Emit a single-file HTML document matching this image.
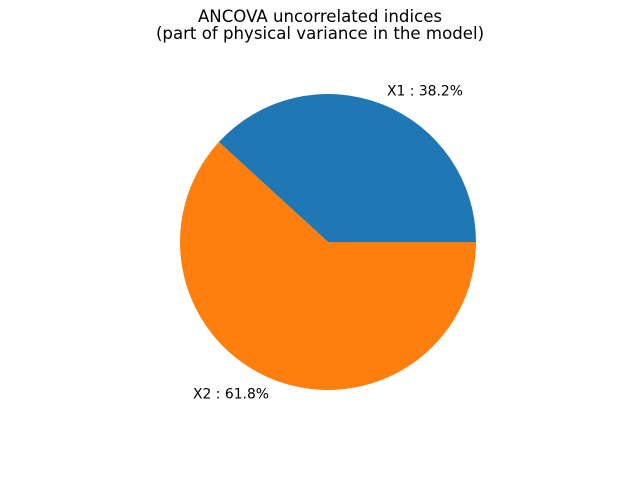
<!DOCTYPE html>
<html><head><meta charset="utf-8"><style>
body{margin:0;background:#fff;}
svg{display:block;font-family:"DejaVu Sans","Liberation Sans",sans-serif;}
</style></head><body>
<svg id="chart" width="640" height="480" viewBox="0 0 640 480">
<rect width="640" height="480" fill="#fff"/>
<text x="320" y="22" text-anchor="middle" font-size="16.6">ANCOVA uncorrelated indices</text>
<text x="320" y="39" text-anchor="middle" font-size="16.6">(part of physical variance in the model)</text>
<g id="slices"></g>
</svg>
<script>
const labels = ["X1", "X2"];
const values = [38.2, 61.8];
const colors = ["#1f77b4", "#ff7f0e"];
const cx = 328, cy = 242, r = 148;
const ns = "http://www.w3.org/2000/svg";
const g = document.getElementById("slices");
const total = values.reduce((a, b) => a + b, 0);
let start = 0;
values.forEach((v, i) => {
  const sweep = v / total * 2 * Math.PI;
  const end = start + sweep;
  const x1 = cx + r * Math.cos(start), y1 = cy - r * Math.sin(start);
  const x2 = cx + r * Math.cos(end), y2 = cy - r * Math.sin(end);
  const large = sweep > Math.PI ? 1 : 0;
  const p = document.createElementNS(ns, "path");
  p.setAttribute("d", `M${cx},${cy} L${x1},${y1} A${r},${r} 0 ${large} 0 ${x2},${y2} Z`);
  p.setAttribute("fill", colors[i]);
  
  
  g.appendChild(p);
  const mid = start + sweep / 2;
  const lx = cx + 1.1 * r * Math.cos(mid), ly = cy - 1.1 * r * Math.sin(mid);
  const t = document.createElementNS(ns, "text");
  t.setAttribute("x", lx);
  t.setAttribute("y", ly + 5);
  t.setAttribute("font-size", "13.9");
  t.setAttribute("text-anchor", Math.cos(mid) >= 0 ? "start" : "end");
  t.textContent = labels[i] + " : " + v.toFixed(1) + "%";
  
  
  g.appendChild(t);
  start = end;
});
</script>
</body></html>
